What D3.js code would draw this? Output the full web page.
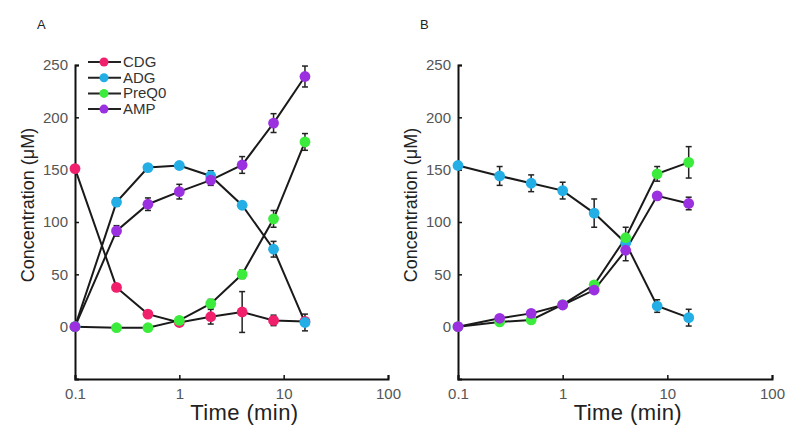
<!DOCTYPE html>
<html><head><meta charset="utf-8">
<script src="https://cdn.jsdelivr.net/npm/d3@7"></script>
<style>
body{margin:0;background:#fff;}
text{font-family:"Liberation Sans",Arial,Helvetica,sans-serif;}
</style></head>
<body><svg id="c" width="800" height="442"></svg>
<script>
const times = [0.1, 0.25, 0.5, 1, 2, 4, 8, 16];
const seriesNames = ["CDG", "ADG", "PreQ0", "AMP"];
const seriesColors = ["#f0206c", "#24aee6", "#3cec3c", "#9b30e0"];
const yTicks = [0, 50, 100, 150, 200, 250];
const xTicks = [0.1, 1, 10, 100];
const xTickLabels = ["0.1", "1", "10", "100"];

// Panel A values and errors
const A_CDG = [151, 37.5, 12, 4, 9.5, 14, 6, 5];
const A_CDG_err = [0, 2, 2, 2, 7, 19.5, 5, 3];
const A_ADG = [0, 119, 152, 154, 144, 116, 74, 4];
const A_ADG_err = [0, 4, 2, 2, 5, 3, 7.5, 8];
const A_PreQ0 = [0, -1, -1, 6, 22, 50, 103, 176.5];
const A_PreQ0_err = [0, 1, 1, 2, 4, 4, 8, 8];
const A_AMP = [0, 91.5, 117, 129, 140, 154.5, 194.5, 239];
const A_AMP_err = [0, 5, 6, 7, 5, 8, 9, 10];

// Panel B values and errors
const B_ADG = [154, 144, 137, 130, 108.5, 80, 19.7, 8.6];
const B_ADG_err = [3, 9, 8, 8, 13.5, 5, 6, 8];
const B_PreQ0 = [0, 4.5, 6.4, 21, 40, 85, 146, 157];
const B_PreQ0_err = [0, 1, 2, 3, 3, 10, 7, 15];
const B_AMP = [0, 8, 12.7, 20.7, 35, 73, 125, 117.7];
const B_AMP_err = [0, 1, 2, 2, 2, 10, 3, 6];

const panels = [
  {label:"A", x0:75, x1:388, legend:true,
   series:[
     {name:"CDG", c:0, v:A_CDG, e:A_CDG_err},
     {name:"ADG", c:1, v:A_ADG, e:A_ADG_err},
     {name:"PreQ0", c:2, v:A_PreQ0, e:A_PreQ0_err},
     {name:"AMP", c:3, v:A_AMP, e:A_AMP_err}]},
  {label:"B", x0:458, x1:772, legend:false,
   series:[
     {name:"ADG", c:1, v:B_ADG, e:B_ADG_err},
     {name:"PreQ0", c:2, v:B_PreQ0, e:B_PreQ0_err},
     {name:"AMP", c:3, v:B_AMP, e:B_AMP_err}]}
];

const svg = d3.select("#c");
const yTop = 65, yBot = 379;

panels.forEach(p => {
  const g = svg.append("g");
  const x = d3.scaleLog().domain([0.1, 100]).range([p.x0, p.x1]);
  const y = d3.scaleLinear().domain([-50, 250]).range([yBot, yTop]);

  // axes
  const yAxis = d3.axisLeft(y).tickValues(yTicks).tickSize(-4).tickPadding(7).tickFormat(d3.format("d"));
  const ya = g.append("g").attr("transform", `translate(${p.x0},0)`).call(yAxis);
  const xAxis = d3.axisBottom(x).tickValues(xTicks).tickSize(-4).tickPadding(9).tickFormat((d,i)=>xTickLabels[i]);
  const xa = g.append("g").attr("transform", `translate(0,${yBot})`).call(xAxis);
  [ya, xa].forEach(a => {
    a.select(".domain").attr("stroke","#111").attr("stroke-width",2);
    a.selectAll(".tick line").attr("stroke","#111").attr("stroke-width",1.5);
    a.selectAll(".tick text").attr("fill","#555").style("font-size","15px");
  });
  ya.selectAll(".tick text").attr("x", -7);

  // titles
  g.append("text").attr("x", p.x0 - 38).attr("y", 29).attr("font-size", 13).attr("fill","#222").text(p.label);
  g.append("text").attr("transform", `translate(${p.x0 - 41},205) rotate(-90)`)
    .attr("text-anchor","middle").attr("font-size", 18).attr("fill","#222").text("Concentration (\u03bcM)");
  g.append("text").attr("x", x(4.2)).attr("y", 420).attr("text-anchor","middle")
    .attr("font-size", 22).attr("letter-spacing", 0.4).attr("fill","#222").text("Time (min)");

  const line = d3.line().x((d,i)=>x(times[i])).y(d=>y(d));
  // lines
  p.series.forEach(s => {
    g.append("path").attr("d", line(s.v)).attr("fill","none").attr("stroke","#1a1a1a").attr("stroke-width",2);
  });
  // error bars
  p.series.forEach(s => {
    s.v.forEach((v,i) => {
      const e = s.e[i];
      if (!e) return;
      const cx = x(times[i]);
      g.append("line").attr("x1",cx).attr("x2",cx).attr("y1",y(v+e)).attr("y2",y(v-e)).attr("stroke","#222").attr("stroke-width",1.5);
      [v+e, v-e].forEach(w => g.append("line").attr("x1",cx-3).attr("x2",cx+3).attr("y1",y(w)).attr("y2",y(w)).attr("stroke","#222").attr("stroke-width",1.5));
    });
  });
  // markers
  p.series.forEach(s => {
    g.selectAll(null).data(s.v).enter().append("circle")
      .attr("cx",(d,i)=>x(times[i])).attr("cy",d=>y(d)).attr("r",5.4).attr("fill",seriesColors[s.c]);
  });

  if (p.legend) {
    const lg = g.append("g");
    seriesNames.forEach((n,i) => {
      const ly = 62 + i*15.7;
      lg.append("line").attr("x1",88).attr("x2",121).attr("y1",ly).attr("y2",ly).attr("stroke","#222").attr("stroke-width",2);
      lg.append("circle").attr("cx",104).attr("cy",ly).attr("r",4.5).attr("fill",seriesColors[i]);
      lg.append("text").attr("x",123).attr("y",ly+5).attr("font-size",15).attr("fill","#333").text(n);
    });
  }
});
</script></body></html>
